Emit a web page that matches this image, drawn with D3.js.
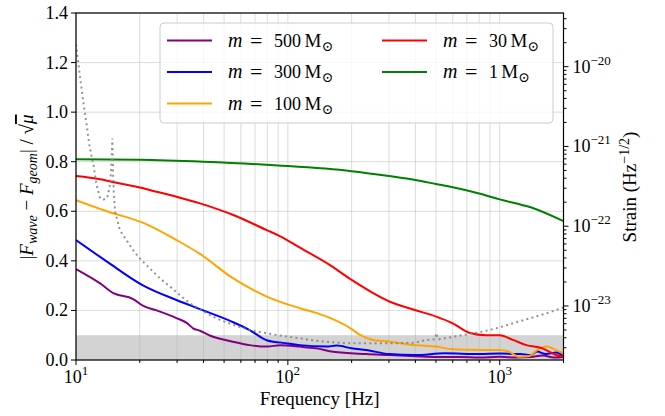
<!DOCTYPE html>
<head>
    <style>
        body { margin: 0; background: #fff; }
        svg text { font-family: "Liberation Serif", "DejaVu Serif", serif; fill: #000; }
    </style>
    <script src="https://d3js.org/d3.v7.min.js"></script>
</head>
<body>
<script>
// frequencies [Hz] and |F_wave - F_geom|/sqrt(mu)
const freqPurple = [10, 13, 15, 18.6, 20.8, 24, 30, 33.3, 35.7, 38.5, 42.8, 55, 66, 80, 92, 114, 136, 164, 235, 303, 400, 500, 650, 800, 1000, 1200, 1400, 1600, 1800, 2000];
const valPurple  = [0.367, 0.309, 0.27, 0.246, 0.218, 0.2, 0.168, 0.15, 0.128, 0.118, 0.099, 0.074, 0.06, 0.054, 0.06, 0.054, 0.047, 0.033, 0.024, 0.02, 0.015, 0.012, 0.012, 0.01, 0.013, 0.01, 0.012, 0.018, 0.01, 0.012];

const freqBlue = [10, 14, 20.8, 29.8, 38.5, 55, 66, 80, 100, 114, 152, 170, 200, 235, 300, 400, 550, 800, 1000, 1250, 1400, 1500, 1650, 1850, 2000];
const valBlue  = [0.484, 0.397, 0.30, 0.242, 0.205, 0.153, 0.121, 0.079, 0.067, 0.06, 0.054, 0.058, 0.047, 0.04, 0.024, 0.02, 0.027, 0.024, 0.026, 0.024, 0.02, 0.034, 0.024, 0.03, 0.014];

const freqOrange = [10, 14, 20.8, 29.8, 38.5, 55, 80, 114, 136, 163, 196, 220, 250, 303, 397, 502, 600, 805, 1000, 1100, 1240, 1380, 1500, 1660, 1850, 2000];
const valOrange  = [0.645, 0.60, 0.553, 0.484, 0.428, 0.33, 0.255, 0.209, 0.19, 0.165, 0.13, 0.10, 0.082, 0.074, 0.06, 0.054, 0.043, 0.04, 0.04, 0.034, 0.013, 0.016, 0.04, 0.054, 0.04, 0.027];

const freqRed = [10, 13, 14.7, 20.8, 22.3, 29.8, 38.5, 55.3, 79.5, 91.6, 114, 158, 200, 303, 397, 502, 600, 718, 862, 1000, 1155, 1337, 1590, 1850, 2000];
const valRed  = [0.742, 0.729, 0.719, 0.693, 0.686, 0.659, 0.632, 0.585, 0.524, 0.50, 0.453, 0.383, 0.323, 0.235, 0.202, 0.175, 0.148, 0.11, 0.10, 0.10, 0.081, 0.06, 0.047, 0.02, 0.013];

const freqGreen = [10, 20, 40, 90, 200, 300, 400, 500, 600, 800, 1000, 1400, 2000];
const valGreen  = [0.81, 0.808, 0.80, 0.785, 0.762, 0.742, 0.726, 0.71, 0.697, 0.672, 0.648, 0.616, 0.56];

// detector noise curve, strain [Hz^-1/2]
const freqNoise = [10, 10.4, 10.8, 11.2, 11.6, 12.1, 12.5, 13.0, 13.5, 14.0, 14.2, 14.5, 14.7, 14.85, 14.95, 15.05, 15.3, 16.1, 17.3, 18.6, 20, 22.3, 24.9, 27.8, 30.9, 34.5, 38.5, 42.8, 47.8, 55.2, 66, 79, 95, 114, 136, 164, 196, 235, 303, 397, 451, 494, 502, 511, 561, 672, 805, 964, 1155, 1386, 1662, 2000];
const valNoise  = [1.9e-20, 8.2e-21, 3.8e-21, 1.95e-21, 9.9e-22, 5.8e-22, 3.3e-22, 2.23e-22, 2.17e-22, 2.23e-22, 2.58e-22, 3.44e-22, 6.1e-22, 1.26e-21, 5.06e-22, 2.84e-22, 1.52e-22, 8.95e-23, 6.7e-23, 5.0e-23, 3.95e-23, 2.96e-23, 2.22e-23, 1.75e-23, 1.37e-23, 1.08e-23, 9.1e-24, 7.7e-24, 6.7e-24, 5.8e-24, 5.0e-24, 4.55e-24, 4.2e-24, 3.94e-24, 3.67e-24, 3.5e-24, 3.4e-24, 3.4e-24, 3.4e-24, 3.47e-24, 3.75e-24, 3.82e-24, 4.58e-24, 3.82e-24, 3.97e-24, 4.33e-24, 4.69e-24, 5.25e-24, 6.07e-24, 7.0e-24, 8.1e-24, 9.6e-24];

const legendLabels = ["500", "300", "100", "30", "1"];
const leftTicks = [0, 0.2, 0.4, 0.6, 0.8, 1.0, 1.2, 1.4];
const rightTicks = [1e-23, 1e-22, 1e-21, 1e-20];
const band = 0.1;

const W = 665, H = 416;
const X0 = 76, X1 = 563.5, Y0 = 13, Y1 = 360;

const x = d3.scaleLog().domain([10, 2000]).range([X0, X1]);
const y = d3.scaleLinear().domain([0, 1.4]).range([Y1, Y0]);
const yR = d3.scaleLog().domain([Math.pow(10, -23.677), Math.pow(10, -19.327)]).range([Y1, Y0]);

const svg = d3.select("body").append("svg").attr("width", W).attr("height", H);

svg.append("defs").append("clipPath").attr("id", "clip")
    .append("rect").attr("x", X0).attr("y", Y0).attr("width", X1 - X0).attr("height", Y1 - Y0);

// grey band
svg.append("rect").attr("x", X0).attr("width", X1 - X0)
    .attr("y", y(band)).attr("height", y(0) - y(band)).attr("fill", "#d3d3d3");

// grid
const minorX = [];
[10, 100, 1000].forEach(d => { for (let k = 1; k <= 9; k++) if (d * k <= 2000) minorX.push(d * k); });
const grid = svg.append("g").attr("stroke", "#b0b0b0").attr("stroke-opacity", 0.45).attr("stroke-width", 1);
grid.selectAll(".gx").data(minorX).join("line")
    .attr("x1", d => x(d)).attr("x2", d => x(d)).attr("y1", Y0).attr("y2", Y1);
grid.selectAll(".gy").data(leftTicks).join("line")
    .attr("x1", X0).attr("x2", X1).attr("y1", d => y(d)).attr("y2", d => y(d));

const plot = svg.append("g").attr("clip-path", "url(#clip)");

const line = d3.line().x(d => x(d[0])).y(d => y(d[1])).curve(d3.curveMonotoneX);
const series = [
    [freqPurple, valPurple, "#800080"],
    [freqBlue, valBlue, "#0000ff"],
    [freqOrange, valOrange, "#ffa500"],
    [freqRed, valRed, "#ff0000"],
    [freqGreen, valGreen, "#008000"]
];
series.forEach(s => {
    plot.append("path")
        .datum(d3.zip(s[0], s[1]))
        .attr("fill", "none").attr("stroke", s[2]).attr("stroke-width", 2)
        .attr("d", line);
});

// noise curve on the twin axis
const lineR = d3.line().x(d => x(d[0])).y(d => yR(d[1]));
plot.append("path")
    .datum(d3.zip(freqNoise, valNoise))
    .attr("fill", "none").attr("stroke", "#808080").attr("stroke-opacity", 0.85)
    .attr("stroke-width", 2).attr("stroke-dasharray", "2,3.3")
    .attr("d", lineR);

// frame
svg.append("rect").attr("x", X0).attr("y", Y0).attr("width", X1 - X0).attr("height", Y1 - Y0)
    .attr("fill", "none").attr("stroke", "#000").attr("stroke-width", 1.2);

const FS = 18;

// left axis
const gl = svg.append("g");
gl.selectAll("line").data(leftTicks).join("line")
    .attr("x1", X0 - 5).attr("x2", X0).attr("y1", d => y(d)).attr("y2", d => y(d))
    .attr("stroke", "#000").attr("stroke-width", 1);
gl.selectAll("text").data(leftTicks).join("text")
    .attr("x", X0 - 8).attr("y", d => y(d) + 6).attr("text-anchor", "end")
    .attr("font-size", FS).text(d => d.toFixed(1));

// bottom axis
const gb = svg.append("g");
gb.selectAll("line").data(minorX).join("line")
    .attr("x1", d => x(d)).attr("x2", d => x(d)).attr("y1", Y1)
    .attr("y2", d => [10, 100, 1000].includes(d) ? Y1 + 5 : Y1 + 3)
    .attr("stroke", "#000").attr("stroke-width", 1);
[10, 100, 1000].forEach(d => {
    const t = gb.append("text").attr("x", x(d)).attr("y", Y1 + 23)
        .attr("text-anchor", "middle").attr("font-size", FS);
    t.append("tspan").text("10");
    t.append("tspan").attr("dy", -8).attr("font-size", 13).text(Math.round(Math.log10(d)));
});

// right axis
const gr = svg.append("g");
const minorR = [];
[-24, -23, -22, -21, -20].forEach(e => {
    for (let k = 1; k <= 9; k++) {
        const v = k * Math.pow(10, e);
        if (v >= yR.domain()[0] && v <= yR.domain()[1]) minorR.push([v, k === 1]);
    }
});
gr.selectAll("line").data(minorR).join("line")
    .attr("x1", X1).attr("x2", d => d[1] ? X1 + 5 : X1 + 3)
    .attr("y1", d => yR(d[0])).attr("y2", d => yR(d[0]))
    .attr("stroke", "#000").attr("stroke-width", 1);
rightTicks.forEach(d => {
    const t = gr.append("text").attr("x", X1 + 9).attr("y", yR(d) + 6).attr("font-size", FS);
    t.append("tspan").text("10");
    t.append("tspan").attr("dy", -8).attr("font-size", 13).text("\u2212" + Math.round(-Math.log10(d)));
});

// axis labels
svg.append("text").attr("x", (X0 + X1) / 2).attr("y", 405).attr("text-anchor", "middle")
    .attr("font-size", 19).text("Frequency [Hz]");

const yl = svg.append("text").attr("transform", "translate(33,187) rotate(-90)")
    .attr("text-anchor", "middle").attr("font-size", 19);
yl.append("tspan").text("|");
yl.append("tspan").attr("font-style", "italic").text("F");
yl.append("tspan").attr("font-style", "italic").attr("font-size", 14).attr("dy", 4).text("wave");
yl.append("tspan").attr("dy", -4).text(" \u2212 ");
yl.append("tspan").attr("font-style", "italic").text("F");
yl.append("tspan").attr("font-style", "italic").attr("font-size", 14).attr("dy", 4).text("geom");
yl.append("tspan").attr("dy", -4).text("| / \u221A");
yl.append("tspan").attr("font-style", "italic").attr("text-decoration", "overline").text("\u03BC");

const yr = svg.append("text").attr("transform", "translate(636,187) rotate(-90)")
    .attr("text-anchor", "middle").attr("font-size", 19);
yr.append("tspan").text("Strain (Hz");
yr.append("tspan").attr("dy", -7).attr("font-size", 14).text("\u22121/2");
yr.append("tspan").attr("dy", 7).text(")");

// legend
const lg = svg.append("g");
lg.append("rect").attr("x", 160).attr("y", 23).attr("width", 393).attr("height", 100).attr("rx", 4)
    .attr("fill", "#fff").attr("fill-opacity", 0.8).attr("stroke", "#cccccc").attr("stroke-width", 1);
const legPos = [[167, 40.5], [167, 72], [167, 103.5], [382, 40.5], [382, 72]];
series.forEach((s, i) => {
    const [lx, ly] = legPos[i];
    lg.append("line").attr("x1", lx).attr("x2", lx + 45).attr("y1", ly).attr("y2", ly)
        .attr("stroke", s[2]).attr("stroke-width", 2);
    const tx = lx + 61;
    const numW = legendLabels[i].length * 9.2;
    const t = lg.append("text").attr("y", ly + 6).attr("font-size", FS);
    t.append("tspan").attr("x", tx).attr("font-style", "italic").attr("font-size", 20).text("m");
    t.append("tspan").attr("x", tx + 22).attr("font-size", 22).attr("dy", 1).text("=");
    t.append("tspan").attr("x", tx + 46).attr("dy", -1).text(legendLabels[i]);
    t.append("tspan").attr("x", tx + 46 + numW + 3).attr("font-size", 19).text("M");
    t.append("tspan").attr("dy", 4).attr("font-size", 14).text("\u2299");
});
</script>
</body>
